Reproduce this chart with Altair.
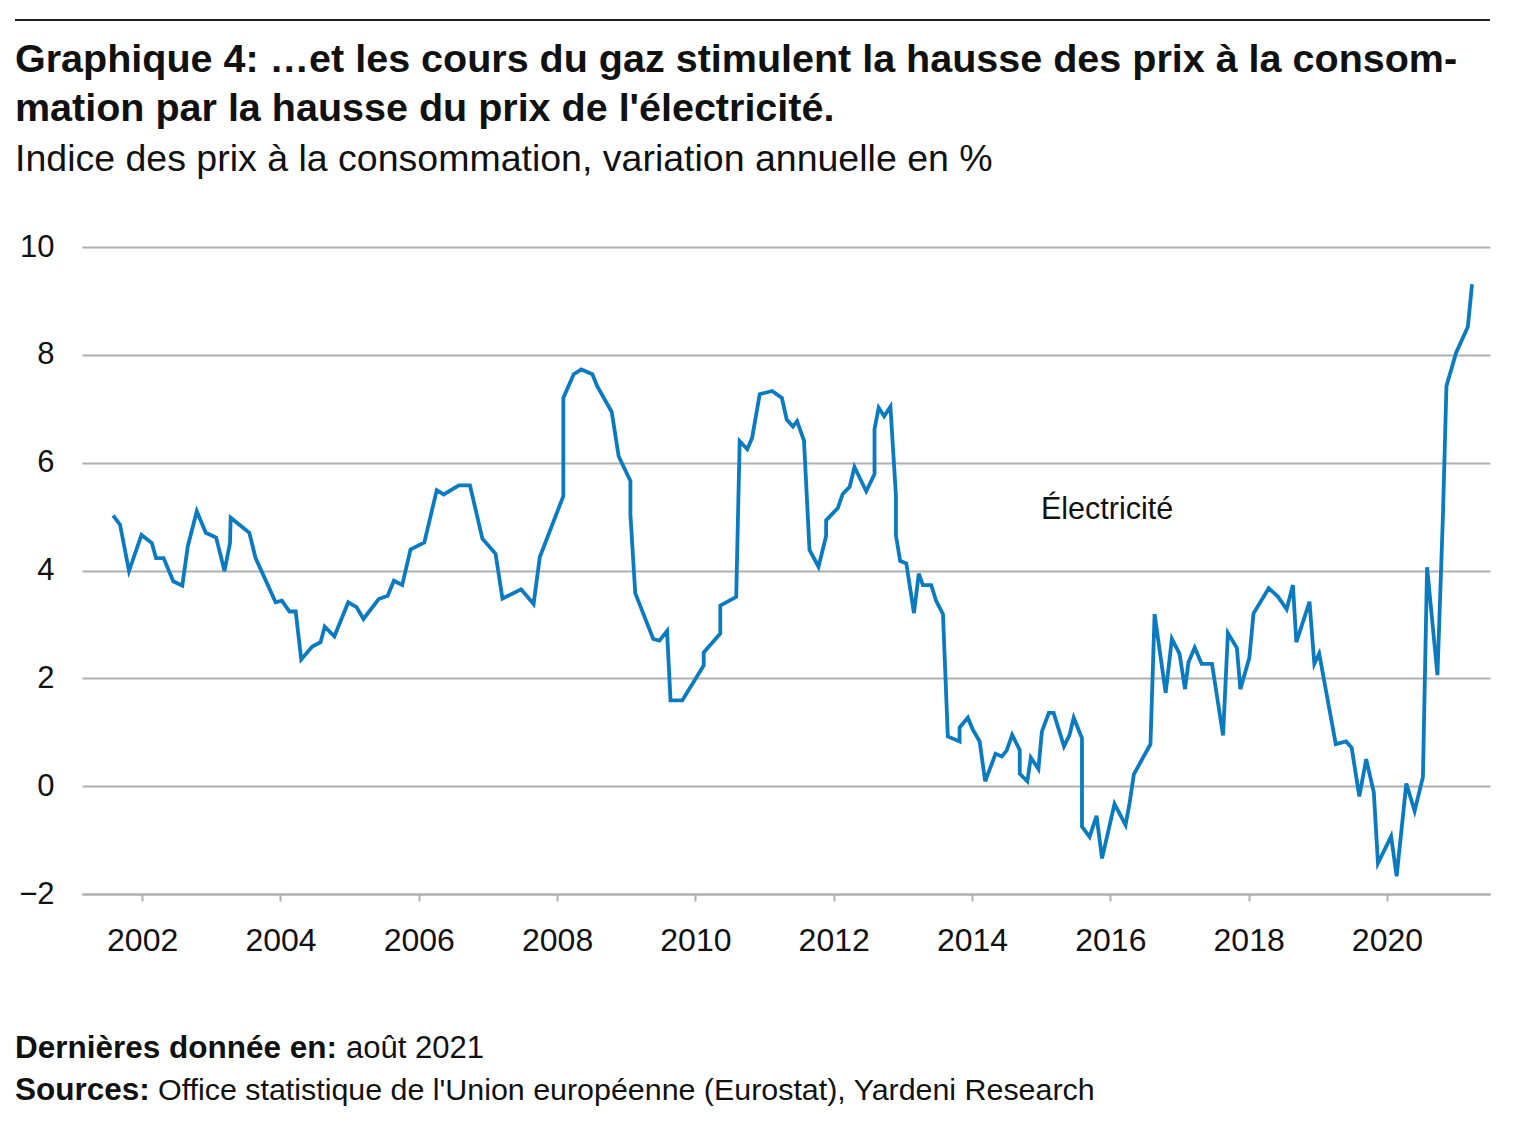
import altair as alt
import pandas as pd

# Electricity CPI, annual % change
years = [
    2001.58, 2001.68, 2001.81, 2001.99, 2002.14, 2002.20, 2002.31, 2002.45, 2002.58, 2002.66,
    2002.79, 2002.92, 2003.07, 2003.19, 2003.27, 2003.28, 2003.55, 2003.64, 2003.93, 2004.02,
    2004.13, 2004.22, 2004.30, 2004.46, 2004.58, 2004.64, 2004.78, 2004.98, 2005.10, 2005.20,
    2005.42, 2005.55, 2005.64, 2005.76, 2005.88, 2006.08, 2006.26, 2006.36, 2006.58, 2006.74,
    2006.92, 2007.11, 2007.21, 2007.48, 2007.66, 2007.75, 2008.09, 2008.09, 2008.24, 2008.35,
    2008.51, 2008.58, 2008.79, 2008.89, 2009.06, 2009.06, 2009.13, 2009.39, 2009.48, 2009.59,
    2009.64, 2009.81, 2010.12, 2010.12, 2010.36, 2010.36, 2010.59, 2010.64, 2010.75, 2010.82,
    2010.93, 2011.11, 2011.25, 2011.32, 2011.41, 2011.47, 2011.57, 2011.65, 2011.78, 2011.89,
    2011.89, 2012.06, 2012.13, 2012.23, 2012.30, 2012.47, 2012.59, 2012.59, 2012.65, 2012.73,
    2012.82, 2012.90, 2012.90, 2012.96, 2013.05, 2013.16, 2013.23, 2013.29, 2013.41, 2013.48,
    2013.58, 2013.65, 2013.82, 2013.82, 2013.94, 2014.01, 2014.11, 2014.19, 2014.34, 2014.43,
    2014.50, 2014.58, 2014.69, 2014.69, 2014.80, 2014.85, 2014.96, 2015.01, 2015.11, 2015.18,
    2015.33, 2015.41, 2015.47, 2015.59, 2015.59, 2015.70, 2015.80, 2015.88, 2016.06, 2016.22,
    2016.28, 2016.34, 2016.58, 2016.64, 2016.80, 2016.89, 2017.00, 2017.08, 2017.13, 2017.22,
    2017.32, 2017.47, 2017.63, 2017.70, 2017.83, 2017.88, 2018.01, 2018.07, 2018.29, 2018.42,
    2018.55, 2018.64, 2018.69, 2018.88, 2018.95, 2019.02, 2019.26, 2019.41, 2019.49, 2019.60,
    2019.70, 2019.81, 2019.87, 2020.06, 2020.14, 2020.28, 2020.40, 2020.52, 2020.58, 2020.73,
    2020.81, 2020.86, 2021.00, 2021.17, 2021.23,
]
values = [
    5.02, 4.85, 3.99, 4.66, 4.51, 4.23, 4.23, 3.80, 3.72, 4.45,
    5.10, 4.70, 4.61, 3.99, 4.51, 4.98, 4.70, 4.23, 3.41, 3.44,
    3.24, 3.24, 2.35, 2.59, 2.67, 2.96, 2.78, 3.41, 3.32, 3.10,
    3.47, 3.53, 3.81, 3.73, 4.39, 4.52, 5.49, 5.41, 5.58, 5.58,
    4.59, 4.31, 3.48, 3.65, 3.38, 4.25, 5.38, 7.20, 7.64, 7.73,
    7.64, 7.42, 6.94, 6.12, 5.66, 5.04, 3.58, 2.73, 2.70, 2.88,
    1.59, 1.59, 2.24, 2.48, 2.83, 3.35, 3.51, 6.40, 6.25, 6.46,
    7.27, 7.33, 7.20, 6.80, 6.67, 6.77, 6.41, 4.38, 4.07, 4.64,
    4.93, 5.16, 5.42, 5.55, 5.92, 5.47, 5.79, 6.62, 7.02, 6.86,
    7.04, 5.38, 4.65, 4.18, 4.13, 3.21, 3.94, 3.73, 3.73, 3.44,
    3.19, 0.92, 0.83, 1.09, 1.27, 1.05, 0.83, 0.09, 0.60, 0.55,
    0.66, 0.95, 0.67, 0.23, 0.09, 0.53, 0.32, 1.01, 1.36, 1.36,
    0.74, 0.95, 1.27, 0.89, -0.75, -0.94, -0.55, -1.34, -0.33, -0.72,
    -0.30, 0.22, 0.78, 3.19, 1.73, 2.73, 2.46, 1.80, 2.30, 2.57,
    2.27, 2.27, 0.94, 2.84, 2.56, 1.80, 2.38, 3.20, 3.67, 3.52,
    3.28, 3.73, 2.67, 3.42, 2.27, 2.46, 0.78, 0.83, 0.71, -0.19,
    0.50, -0.12, -1.43, -0.93, -1.67, 0.05, -0.46, 0.17, 4.06, 2.06,
    5.04, 7.42, 8.04, 8.52, 9.31,
]

x_ticks = [2002, 2004, 2006, 2008, 2010, 2012, 2014, 2016, 2018, 2020]
y_ticks = [-2, 0, 2, 4, 6, 8, 10]

title_1 = "Graphique 4: …et les cours du gaz stimulent la hausse des prix à la consom-"
title_2 = "mation par la hausse du prix de l'électricité."
subtitle = "Indice des prix à la consommation, variation annuelle en %"
series_label = "Électricité"
foot_1_bold = "Dernières donnée en:"
foot_1_text = "août 2021"
foot_2_bold = "Sources:"
foot_2_text = "Office statistique de l'Union européenne (Eurostat), Yardeni Research"

FONT = "Liberation Sans"
df = pd.DataFrame({"year": years, "value": values, "i": list(range(len(years)))})

W, H = 1408, 647

line = alt.Chart(df).mark_line(color="#0a7bc1", strokeWidth=3.8, strokeJoin="miter").encode(
    x=alt.X("year:Q",
            scale=alt.Scale(domain=[2001.13, 2021.49], nice=False, zero=False),
            axis=alt.Axis(values=x_ticks, format="d", title=None, grid=False,
                          domainColor="#b0b0b0", domainWidth=2,
                          tickColor="#b0b0b0", tickWidth=2, tickSize=7,
                          labelFont=FONT, labelFontSize=32, labelColor="#111",
                          labelPadding=24)),
    y=alt.Y("value:Q",
            scale=alt.Scale(domain=[-2, 10], nice=False, zero=False),
            axis=alt.Axis(values=y_ticks, title=None, grid=True, gridColor="#b0b0b0",
                          gridWidth=2, domain=False, ticks=False,
                          labelFont=FONT, labelFontSize=31, labelColor="#111",
                          labelPadding=28)),
    order="i:Q",
)

def txt(s, x, y, size, bold=False, align="left"):
    return alt.Chart(pd.DataFrame({"t": [s]})).mark_text(
        font=FONT, fontSize=size, fontWeight="bold" if bold else "normal",
        align=align, baseline="alphabetic", color="#111"
    ).encode(text="t:N", x=alt.value(x), y=alt.value(y))

rule = alt.Chart(pd.DataFrame({"a": [0]})).mark_rule(color="#222", strokeWidth=2).encode(
    x=alt.value(-67), x2=alt.value(1408), y=alt.value(-227))

layers = [
    rule,
    line,
    txt(title_1, -67, -175, 39.5, bold=True),
    txt(title_2, -67, -126, 39.5, bold=True),
    txt(subtitle, -67, -76, 37.5),
    txt(series_label, 959, 272, 30.5),
    txt(foot_1_bold, -67, 1058 - 247, 31.5, bold=True),
    txt(foot_1_text, 346 - 82, 1058 - 247, 31),
    txt(foot_2_bold, -67, 1100 - 247, 31.5, bold=True),
    txt(foot_2_text, 158 - 82, 1100 - 247, 30.4),
]

chart = alt.layer(*layers).properties(
    width=W, height=H,
    autosize=alt.AutoSizeParams(type="none"),
    padding={"left": 74, "top": 239, "right": 30, "bottom": 215},
).configure(background="white").configure_view(stroke=None)

chart.save("out.html", embed_options={"renderer": "svg", "actions": False})
